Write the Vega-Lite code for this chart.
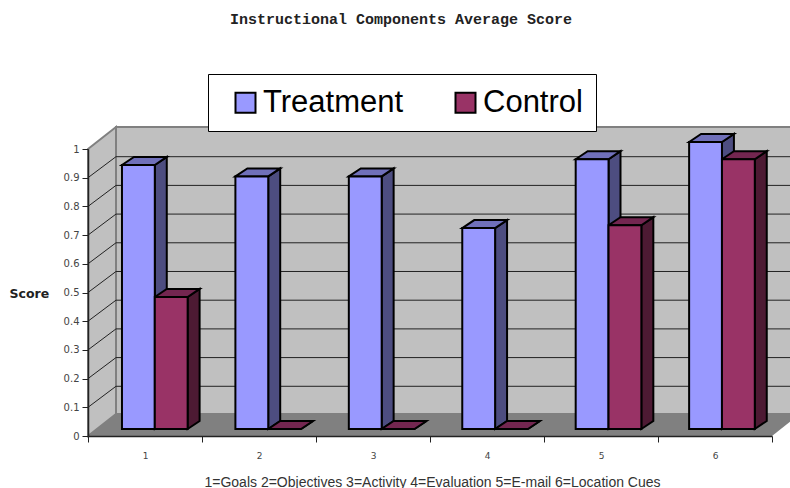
{
  "$schema": "https://vega.github.io/schema/vega-lite/v6.json",
  "width": 684,
  "height": 287,
  "autosize": "none",
  "padding": {"left": 88, "top": 149, "right": 18, "bottom": 52},
  "background": "white",
  "title": {
    "text": "Instructional Components Average Score",
    "font": "Liberation Mono",
    "fontSize": 15,
    "fontWeight": "bold",
    "color": "#222222",
    "anchor": "middle",
    "dx": -29,
    "offset": 47
  },
  "datasets": {
    "scores": [
      {"category": 1, "series": "Treatment", "score": 0.92},
      {"category": 1, "series": "Control", "score": 0.46},
      {"category": 2, "series": "Treatment", "score": 0.88},
      {"category": 2, "series": "Control", "score": 0},
      {"category": 3, "series": "Treatment", "score": 0.88},
      {"category": 3, "series": "Control", "score": 0},
      {"category": 4, "series": "Treatment", "score": 0.7},
      {"category": 4, "series": "Control", "score": 0},
      {"category": 5, "series": "Treatment", "score": 0.94},
      {"category": 5, "series": "Control", "score": 0.71},
      {"category": 6, "series": "Treatment", "score": 1},
      {"category": 6, "series": "Control", "score": 0.94}
    ],
    "floor": [
      {"x": 0, "y": 0, "y2": 0},
      {"x": 0.2456, "y": 0.0767, "y2": 0},
      {"x": 6, "y": 0.0767, "y2": 0},
      {"x": 6.2456, "y": 0.0767, "y2": 0.0767}
    ],
    "sideWall": [
      {"x": 0, "y": 1, "y2": 0},
      {"x": 0.2456, "y": 1.0767, "y2": 0.0767}
    ],
    "backWall": [
      {"x": 0.2456, "y": 1.0767, "y2": 0.0767},
      {"x": 6.2456, "y": 1.0767, "y2": 0.0767}
    ],
    "levels": [
      {"level": 0.1}, {"level": 0.2}, {"level": 0.3},
      {"level": 0.4}, {"level": 0.5}, {"level": 0.6},
      {"level": 0.7}, {"level": 0.8}, {"level": 0.9}
    ]
  },
  "encoding": {
    "x": {
      "field": "x",
      "type": "quantitative",
      "scale": {"domain": [0, 6], "nice": false, "zero": false},
      "axis": {
        "values": [0, 1, 2, 3, 4, 5, 6],
        "labelExpr": "datum.value < 6 ? format(datum.value + 1, 'd') : ''",
        "labelOffset": 57,
        "labelFont": "DejaVu Sans",
        "labelFontSize": 9,
        "labelColor": "#444444",
        "labelPadding": 9,
        "labelFlush": false,
        "labelOverlap": false,
        "tickSize": 6,
        "tickColor": "#222222",
        "domainColor": "#222222",
        "domainWidth": 1.5,
        "grid": false,
        "zindex": 1,
        "title": "1=Goals 2=Objectives 3=Activity 4=Evaluation 5=E-mail 6=Location Cues",
        "titleFont": "Liberation Sans",
        "titleFontSize": 14,
        "titleFontWeight": "normal",
        "titleColor": "#333333",
        "titleBaseline": "middle",
        "titleX": 344,
        "titleY": 46
      }
    },
    "y": {
      "field": "y",
      "type": "quantitative",
      "scale": {"domain": [0, 1], "nice": false, "zero": false},
      "axis": {
        "values": [0, 0.1, 0.2, 0.3, 0.4, 0.5, 0.6, 0.7, 0.8, 0.9, 1],
        "format": "~g",
        "labelFont": "DejaVu Sans",
        "labelFontSize": 10,
        "labelColor": "#444444",
        "labelPadding": 3,
        "tickSize": 6,
        "tickColor": "#222222",
        "domainColor": "#222222",
        "domainWidth": 1.5,
        "grid": false,
        "zindex": 1,
        "title": "Score",
        "titleFont": "DejaVu Sans",
        "titleFontSize": 12.5,
        "titleFontWeight": "bold",
        "titleColor": "#222222",
        "titleAngle": 0,
        "titleAlign": "left",
        "titleBaseline": "middle",
        "titleX": -79,
        "titleY": 144
      }
    }
  },
  "layer": [
    {
      "data": {"name": "backWall"},
      "mark": {"type": "area", "fill": "#C0C0C0", "stroke": "#808080", "strokeWidth": 2},
      "encoding": {"y2": {"field": "y2"}}
    },
    {
      "data": {"name": "sideWall"},
      "mark": {"type": "area", "fill": "#C0C0C0", "stroke": "#808080", "strokeWidth": 2},
      "encoding": {"y2": {"field": "y2"}}
    },
    {
      "data": {"name": "floor"},
      "mark": {"type": "area", "fill": "#808080"},
      "encoding": {"y2": {"field": "y2"}}
    },
    {
      "data": {"name": "levels"},
      "transform": [
        {"calculate": "0", "as": "x"},
        {"calculate": "0.2456", "as": "x2"},
        {"calculate": "datum.level", "as": "y"},
        {"calculate": "datum.level + 0.0732", "as": "y2"}
      ],
      "mark": {"type": "rule", "stroke": "#222222", "strokeWidth": 1},
      "encoding": {"x2": {"field": "x2"}, "y2": {"field": "y2"}}
    },
    {
      "data": {"name": "levels"},
      "transform": [
        {"calculate": "0.2456", "as": "x"},
        {"calculate": "6.2456", "as": "x2"},
        {"calculate": "datum.level + 0.0732", "as": "y"}
      ],
      "mark": {"type": "rule", "stroke": "#222222", "strokeWidth": 1},
      "encoding": {"x2": {"field": "x2"}}
    },
    {
      "data": {"name": "scores"},
      "transform": [
        {"calculate": "(datum.category - 1) * 0.995 + 0.298 + (datum.series === 'Control' ? 0.288 : 0)", "as": "left"},
        {"calculate": "[0, 1]", "as": "t"},
        {"flatten": ["t"]},
        {"calculate": "datum.left + 0.288 + datum.t * 0.105", "as": "x"},
        {"calculate": "0.0244 + datum.score + datum.t * 0.028", "as": "y"},
        {"calculate": "0.0244 + datum.t * 0.028", "as": "y2"}
      ],
      "mark": {"type": "area", "stroke": "#000000", "strokeWidth": 2},
      "encoding": {
        "y2": {"field": "y2"},
        "detail": [{"field": "category"}, {"field": "series"}],
        "fill": {
          "field": "series",
          "type": "nominal",
          "scale": {"domain": ["Treatment", "Control"], "range": ["#4D4D80", "#4D1A33"]},
          "legend": null
        }
      }
    },
    {
      "data": {"name": "scores"},
      "transform": [
        {"calculate": "(datum.category - 1) * 0.995 + 0.298 + (datum.series === 'Control' ? 0.288 : 0)", "as": "left"},
        {"calculate": "[0, 1, 2, 3]", "as": "t"},
        {"flatten": ["t"]},
        {"calculate": "datum.left + (datum.t === 0 ? 0 : datum.t === 1 ? 0.105 : datum.t === 2 ? 0.288 : 0.393)", "as": "x"},
        {"calculate": "0.0244 + datum.score + (datum.t === 0 ? 0 : 0.028)", "as": "y"},
        {"calculate": "0.0244 + datum.score + (datum.t === 3 ? 0.028 : 0)", "as": "y2"}
      ],
      "mark": {"type": "area", "stroke": "#000000", "strokeWidth": 2},
      "encoding": {
        "y2": {"field": "y2"},
        "detail": [{"field": "category"}, {"field": "series"}],
        "fill": {
          "field": "series",
          "type": "nominal",
          "scale": {"domain": ["Treatment", "Control"], "range": ["#7070BA", "#732650"]},
          "legend": null
        }
      }
    },
    {
      "data": {"name": "scores"},
      "transform": [
        {"calculate": "(datum.category - 1) * 0.995 + 0.298 + (datum.series === 'Control' ? 0.288 : 0)", "as": "x"},
        {"calculate": "datum.x + 0.288", "as": "x2"},
        {"calculate": "0.0244 + datum.score", "as": "y"},
        {"calculate": "0.0244", "as": "y2"}
      ],
      "mark": {"type": "rect", "stroke": "#000000", "strokeWidth": 2},
      "encoding": {
        "x2": {"field": "x2"},
        "y2": {"field": "y2"},
        "fill": {
          "field": "series",
          "type": "nominal",
          "scale": {"domain": ["Treatment", "Control"], "range": ["#9999FF", "#993366"]},
          "legend": {
            "orient": "none",
            "legendX": 120,
            "legendY": -75,
            "direction": "horizontal",
            "columns": 2,
            "columnPadding": 37,
            "title": null,
            "fillColor": "#FFFFFF",
            "strokeColor": "#000000",
            "padding": 13,
            "symbolType": "square",
            "symbolSize": 400,
            "symbolOffset": 9,
            "symbolStrokeColor": "#000000",
            "symbolStrokeWidth": 2,
            "labelFont": "Liberation Sans",
            "labelFontSize": 31,
            "labelColor": "#000000",
            "labelOffset": 2,
            "labelLimit": 300
          }
        }
      }
    }
  ],
  "resolve": {"scale": {"fill": "independent"}},
  "config": {"view": {"stroke": null}}
}
